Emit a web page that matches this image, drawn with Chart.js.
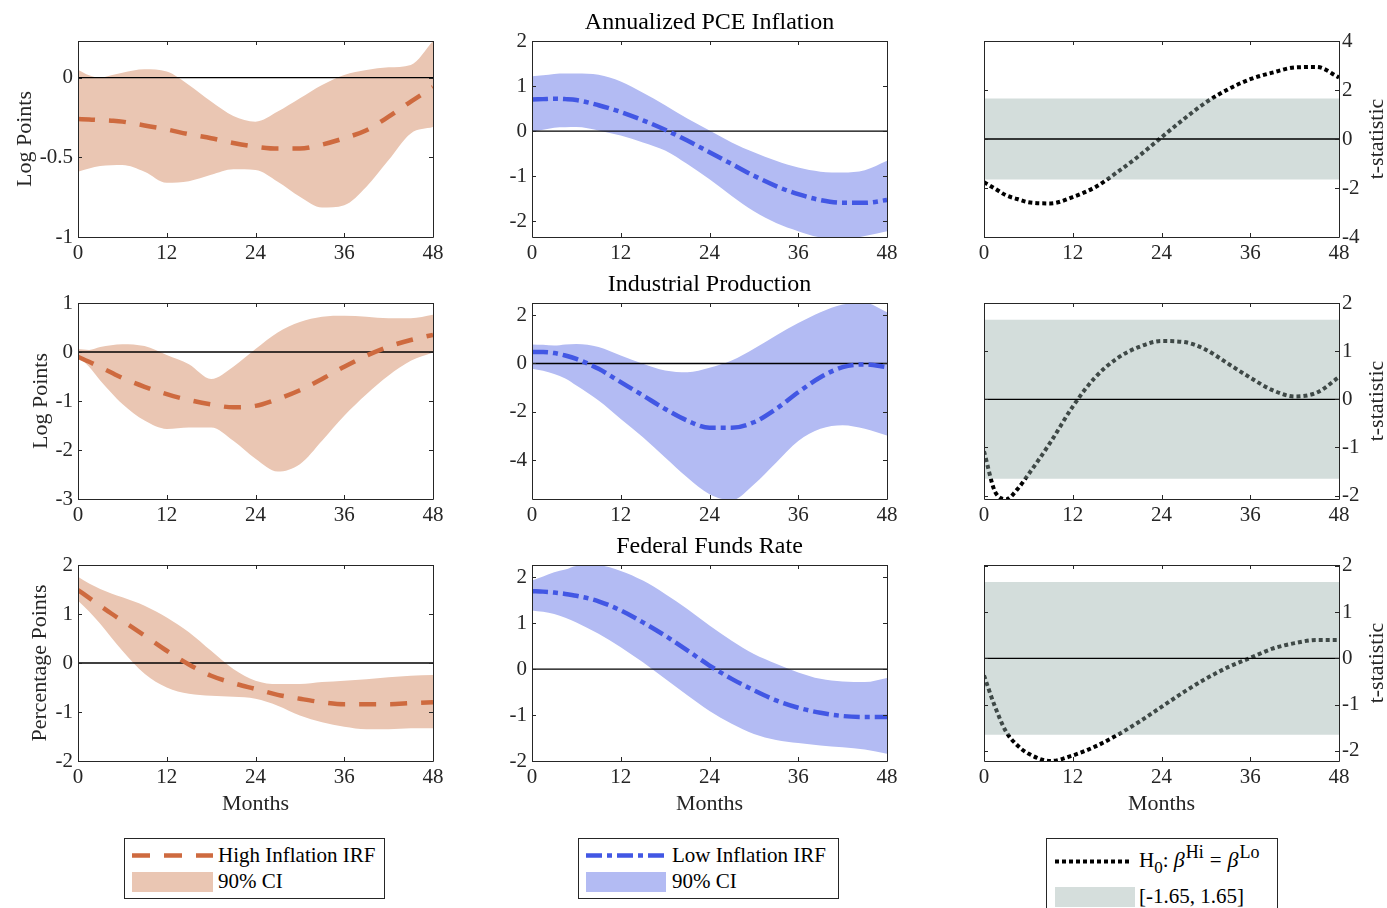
<!DOCTYPE html>
<html>
<head>
<meta charset="utf-8">
<script src="https://cdn.jsdelivr.net/npm/chart.js@4.4.0/dist/chart.umd.min.js"></script>
<style>
  body { margin: 0; background: #fff; }
  #page { position: relative; width: 1387px; height: 908px; overflow: hidden; background: #fff;
          font-family: "Liberation Serif", "Times New Roman", serif; color: #000; }
  #page canvas { position: absolute; }
  .box { position: absolute; border: 1px solid #262626; box-sizing: border-box; background: #fff; }
  .lab { position: absolute; font-size: 21px; line-height: 24px; white-space: nowrap; }
  .lab sup { font-size: 18px; vertical-align: 9px; line-height: 0; margin-left: 1px; }
  .lab sub { font-size: 17px; vertical-align: -6px; line-height: 0; }
  .lab i { font-size: 22px; }
  .lab .eq { margin: 0 6px; }
  svg { position: absolute; left: 0; top: 0; }
</style>
</head>
<body>
<div id="page">
  <div class="box" style="left:124px;top:838px;width:261px;height:61px;"></div>
  <div class="box" style="left:578px;top:838px;width:261px;height:61px;"></div>
  <div class="box" style="left:1046px;top:838px;width:232px;height:90px;"></div>
  <svg width="1387" height="908">
    <line x1="132" y1="855.5" x2="213" y2="855.5" stroke="#CE6A3F" stroke-width="4.5" stroke-dasharray="18,14"/>
    <rect x="132" y="872" width="81" height="20" fill="#EAC6B3"/>
    <line x1="586" y1="855.5" x2="666" y2="855.5" stroke="#4257E4" stroke-width="4.5" stroke-dasharray="16,5,5,5"/>
    <rect x="586" y="872" width="80" height="20" fill="#B3BBF3"/>
    <line x1="1055" y1="861.5" x2="1129" y2="861.5" stroke="#000" stroke-width="4" stroke-dasharray="4,3"/>
    <rect x="1055" y="887" width="80" height="20" fill="#D5DEDC"/>
  </svg>
  <div class="lab" style="left:218px;top:843px;">High Inflation IRF</div>
  <div class="lab" style="left:218px;top:869px;">90% CI</div>
  <div class="lab" style="left:672px;top:843px;">Low Inflation IRF</div>
  <div class="lab" style="left:672px;top:869px;">90% CI</div>
  <div class="lab" style="left:1139px;top:848px;">H<sub>0</sub>:&nbsp;<i>β</i><sup>Hi</sup><span class="eq">=</span><i>β</i><sup>Lo</sup></div>
  <div class="lab" style="left:1139px;top:884px;">[-1.65, 1.65]</div>
</div>
<script>
// horizon in months (irregular at the start so the sharp early moves are kept)
var months = [0, 1.5, 3, 4.5, 6, 9, 12, 15, 18, 21, 24, 27, 30, 33, 36, 39, 42, 45, 48];
var xTicks = [0, 12, 24, 36, 48];
var critBand = [-1.65, 1.65];

// Annualized PCE inflation
var pceHigh      = [-0.26, -0.262, -0.266, -0.27, -0.276, -0.30, -0.325, -0.355, -0.38, -0.41, -0.433, -0.445, -0.445, -0.42, -0.38, -0.33, -0.245, -0.15, -0.06];
var pceHighUpper = [0.05, 0.015, 0.0, 0.015, 0.03, 0.052, 0.038, -0.046, -0.15, -0.24, -0.276, -0.213, -0.13, -0.046, 0.017, 0.048, 0.065, 0.08, 0.23];
var pceHighLower = [-0.59, -0.57, -0.554, -0.55, -0.548, -0.59, -0.66, -0.65, -0.61, -0.575, -0.58, -0.653, -0.747, -0.815, -0.80, -0.684, -0.517, -0.35, -0.31];
var pceLow       = [0.70, 0.71, 0.72, 0.71, 0.69, 0.575, 0.425, 0.24, 0.03, -0.21, -0.47, -0.73, -0.99, -1.22, -1.40, -1.53, -1.59, -1.59, -1.53];
var pceLowUpper  = [1.22, 1.24, 1.27, 1.28, 1.28, 1.25, 1.10, 0.85, 0.575, 0.28, 0.015, -0.25, -0.47, -0.66, -0.81, -0.90, -0.92, -0.87, -0.66];
var pceLowLower  = [-0.02, 0.03, 0.075, 0.085, 0.09, 0.015, -0.10, -0.25, -0.43, -0.73, -1.07, -1.44, -1.78, -2.04, -2.22, -2.36, -2.40, -2.33, -2.22];
var pceTstat     = [-1.76, -2.03, -2.3, -2.45, -2.58, -2.63, -2.37, -1.97, -1.36, -0.68, 0.07, 0.81, 1.49, 2.03, 2.44, 2.71, 2.92, 2.94, 2.51];

// Industrial production
var ipHigh      = [-0.10, -0.20, -0.31, -0.42, -0.53, -0.71, -0.86, -0.98, -1.07, -1.13, -1.10, -0.96, -0.78, -0.55, -0.30, -0.075, 0.11, 0.245, 0.35];
var ipHighUpper = [0.06, 0.04, 0.10, 0.14, 0.16, 0.12, -0.06, -0.25, -0.55, -0.30, 0.06, 0.40, 0.61, 0.72, 0.74, 0.72, 0.69, 0.69, 0.76];
var ipHighLower = [-0.08, -0.30, -0.58, -0.83, -1.06, -1.40, -1.57, -1.54, -1.54, -1.81, -2.18, -2.44, -2.29, -1.81, -1.30, -0.86, -0.48, -0.18, -0.01];
var ipLow       = [0.47, 0.47, 0.43, 0.33, 0.19, -0.22, -0.77, -1.32, -1.88, -2.36, -2.66, -2.66, -2.43, -1.88, -1.19, -0.57, -0.15, -0.04, -0.15];
var ipLowUpper  = [0.79, 0.77, 0.74, 0.79, 0.81, 0.68, 0.33, -0.01, -0.29, -0.36, -0.18, 0.12, 0.61, 1.16, 1.67, 2.12, 2.44, 2.52, 2.12];
var ipLowLower  = [-0.22, -0.30, -0.43, -0.62, -0.91, -1.53, -2.29, -3.05, -3.88, -4.71, -5.40, -5.65, -5.00, -4.10, -3.20, -2.70, -2.55, -2.70, -2.98];
var ipTstat     = [-1.08, -1.92, -2.08, -1.87, -1.56, -0.89, -0.15, 0.45, 0.85, 1.09, 1.21, 1.19, 1.03, 0.74, 0.45, 0.19, 0.06, 0.14, 0.46];

// Federal funds rate
var ffrHigh      = [1.49, 1.33, 1.17, 1.01, 0.86, 0.56, 0.25, -0.03, -0.26, -0.41, -0.53, -0.65, -0.73, -0.80, -0.84, -0.84, -0.84, -0.82, -0.80];
var ffrHighUpper = [1.76, 1.62, 1.51, 1.42, 1.34, 1.17, 0.93, 0.63, 0.25, -0.12, -0.36, -0.43, -0.43, -0.39, -0.36, -0.33, -0.29, -0.26, -0.245];
var ffrHighLower = [1.27, 1.05, 0.80, 0.52, 0.25, -0.22, -0.50, -0.63, -0.67, -0.69, -0.73, -0.87, -1.07, -1.21, -1.30, -1.35, -1.35, -1.33, -1.33];
var ffrLow       = [1.70, 1.69, 1.67, 1.64, 1.60, 1.48, 1.28, 1.02, 0.73, 0.41, 0.08, -0.21, -0.46, -0.68, -0.84, -0.95, -1.02, -1.04, -1.04];
var ffrLowUpper  = [1.93, 2.02, 2.11, 2.17, 2.25, 2.26, 2.14, 1.93, 1.64, 1.31, 0.95, 0.62, 0.33, 0.12, -0.07, -0.21, -0.27, -0.28, -0.19];
var ffrLowLower  = [1.28, 1.25, 1.20, 1.12, 1.02, 0.77, 0.48, 0.15, -0.21, -0.57, -0.91, -1.19, -1.41, -1.54, -1.61, -1.66, -1.70, -1.75, -1.84];
var ffrTstat     = [-0.37, -1.05, -1.59, -1.88, -2.06, -2.22, -2.10, -1.91, -1.66, -1.37, -1.05, -0.73, -0.44, -0.19, 0.01, 0.21, 0.33, 0.40, 0.40];

// y tick labels of each panel
var pceHighTicks = [-1, -0.5, 0];
var pceLowTicks  = [-2, -1, 0, 1, 2];
var pceTTicks    = [-4, -2, 0, 2, 4];
var ipHighTicks  = [-3, -2, -1, 0, 1];
var ipLowTicks   = [-4, -2, 0, 2];
var ipTTicks     = [-2, -1, 0, 1, 2];
var ffrHighTicks = [-2, -1, 0, 1, 2];
var ffrLowTicks  = [-2, -1, 0, 1, 2];
var ffrTTicks    = [-2, -1, 0, 1, 2];

var FONT = 'Liberation Serif';
var AXIS = '#262626';
var plotLeft = [78, 532, 984];
var plotTop = [41, 303, 565];
var plotW = 355, plotH = 196;

var styles = {
    hi: { color: '#CE6A3F', band: '#EAC6B3', dash: [17, 14], width: 4.5 },
    lo: { color: '#4257E4', band: '#B3BBF3', dash: [16, 5, 5, 5], width: 4.5 },
    t:  { color: '#000000', band: 'rgba(150,175,170,0.42)', dash: [4, 3], width: 4 }
};

var panels = [
    { row: 0, col: 0, kind: 'hi', mean: pceHigh, upper: pceHighUpper, lower: pceHighLower, range: [-1, 0.23], ticks: pceHighTicks, ylabel: 'Log Points', ypad: 11.7 },
    { row: 0, col: 1, kind: 'lo', mean: pceLow, upper: pceLowUpper, lower: pceLowLower, range: [-2.35, 2], ticks: pceLowTicks, title: 'Annualized PCE Inflation' },
    { row: 0, col: 2, kind: 't', mean: pceTstat, range: [-4, 4], ticks: pceTTicks },
    { row: 1, col: 0, kind: 'hi', mean: ipHigh, upper: ipHighUpper, lower: ipHighLower, range: [-3, 1], ticks: ipHighTicks, ylabel: 'Log Points', ypad: 28 },
    { row: 1, col: 1, kind: 'lo', mean: ipLow, upper: ipLowUpper, lower: ipLowLower, range: [-5.6, 2.5], ticks: ipLowTicks, title: 'Industrial Production' },
    { row: 1, col: 2, kind: 't', mean: ipTstat, range: [-2.07, 2], ticks: ipTTicks },
    { row: 2, col: 0, kind: 'hi', mean: ffrHigh, upper: ffrHighUpper, lower: ffrHighLower, range: [-2, 2], ticks: ffrHighTicks, ylabel: 'Percentage Points', ypad: 27 },
    { row: 2, col: 1, kind: 'lo', mean: ffrLow, upper: ffrLowUpper, lower: ffrLowLower, range: [-2, 2.27], ticks: ffrLowTicks, title: 'Federal Funds Rate' },
    { row: 2, col: 2, kind: 't', mean: ffrTstat, range: [-2.22, 2.02], ticks: ffrTTicks }
];

function series(ys) {
    return months.map(function (m, i) { return { x: m, y: ys[i] }; });
}
function flat(v) {
    return [{ x: 0, y: v }, { x: 48, y: v }];
}

// MATLAB style box with inward ticks, plus the right hand label
var frameTicks = {
    id: 'frameTicks',
    afterDatasetsDraw: function (chart, args, opts) {
        var a = chart.chartArea, ctx = chart.ctx;
        var sx = chart.scales.x, sy = chart.scales.y;
        ctx.save();
        ctx.strokeStyle = AXIS;
        ctx.lineWidth = 1;
        ctx.beginPath();
        ctx.rect(a.left + 0.5, a.top + 0.5, a.right - a.left, a.bottom - a.top);
        sx.ticks.forEach(function (t) {
            var px = Math.round(sx.getPixelForValue(t.value)) + 0.5;
            ctx.moveTo(px, a.bottom); ctx.lineTo(px, a.bottom - 4);
            ctx.moveTo(px, a.top); ctx.lineTo(px, a.top + 4);
        });
        sy.ticks.forEach(function (t) {
            var py = Math.round(sy.getPixelForValue(t.value)) + 0.5;
            ctx.moveTo(a.left, py); ctx.lineTo(a.left + 4, py);
            ctx.moveTo(a.right, py); ctx.lineTo(a.right - 4, py);
        });
        ctx.stroke();
        if (opts.rightLabel) {
            ctx.fillStyle = AXIS;
            ctx.font = '22px "' + FONT + '"';
            ctx.textAlign = 'center';
            ctx.textBaseline = 'middle';
            ctx.translate(a.right + 38.6, (a.top + a.bottom) / 2);
            ctx.rotate(-Math.PI / 2);
            ctx.fillText(opts.rightLabel, 0, 0);
        }
        ctx.restore();
    }
};

function buildPanel(p) {
    var st = styles[p.kind];
    var isT = p.kind === 't';
    var padL = isT ? 20 : 78;
    var padR = isT ? 60 : 78;
    var xh = p.row === 2 ? 62 : 30;
    var cw = padL + plotW + padR;
    var ch = 40 + plotH + xh;

    var cv = document.createElement('canvas');
    cv.width = cw;
    cv.height = ch;
    cv.style.left = (plotLeft[p.col] - padL) + 'px';
    cv.style.top = (plotTop[p.row] - 40) + 'px';
    cv.style.width = cw + 'px';
    cv.style.height = ch + 'px';
    document.getElementById('page').appendChild(cv);

    var zero = { data: flat(0), borderColor: '#000', borderWidth: 1.3, pointRadius: 0, fill: false, clip: 0 };
    var meanLine = {
        data: series(p.mean), borderColor: st.color, borderWidth: st.width, borderDash: st.dash,
        borderCapStyle: 'butt', cubicInterpolationMode: 'monotone', pointRadius: 0, fill: false, clip: 0
    };
    var datasets;
    if (isT) {
        datasets = [
            zero,
            { data: flat(critBand[1]), borderColor: 'rgba(0,0,0,0)', borderWidth: 1, pointRadius: 0, backgroundColor: st.band, fill: '+1', clip: 0 },
            { data: flat(critBand[0]), borderColor: 'rgba(0,0,0,0)', borderWidth: 1, pointRadius: 0, fill: false, clip: 0 },
            meanLine
        ];
    } else {
        datasets = [
            meanLine,
            zero,
            { data: series(p.upper), borderColor: 'rgba(0,0,0,0)', borderWidth: 1, pointRadius: 0, backgroundColor: st.band,
              fill: '+1', cubicInterpolationMode: 'monotone', clip: 0 },
            { data: series(p.lower), borderColor: 'rgba(0,0,0,0)', borderWidth: 1, pointRadius: 0, fill: false,
              cubicInterpolationMode: 'monotone', clip: 0 }
        ];
    }

    var tickFont = { family: FONT, size: 21 };
    return new Chart(cv.getContext('2d'), {
        type: 'line',
        data: { datasets: datasets },
        plugins: [frameTicks],
        options: {
            responsive: false,
            animation: false,
            events: [],
            layout: { padding: { left: isT ? padL : 0, right: isT ? 0 : padR, top: 0, bottom: 0 } },
            plugins: {
                legend: { display: false },
                tooltip: { enabled: false },
                title: {
                    display: true,
                    fullSize: false,   // centre over the plot area, not the canvas
                    text: p.title || '',
                    color: '#000',
                    font: { family: FONT, size: 24, weight: 'normal', lineHeight: 1.2 },
                    padding: { top: 7.6, bottom: 3.6 }
                },
                frameTicks: { rightLabel: isT ? 't-statistic' : '' }
            },
            scales: {
                x: {
                    type: 'linear',
                    min: 0,
                    max: 48,
                    bounds: 'data',
                    afterBuildTicks: function (s) { s.ticks = xTicks.map(function (v) { return { value: v }; }); },
                    afterFit: function (s) { s.height = xh; },
                    grid: { display: false, drawTicks: false },
                    border: { display: false },
                    ticks: { font: tickFont, color: AXIS, padding: 3.5, maxRotation: 0, autoSkip: false,
                             callback: function (v) { return String(v); } },
                    title: {
                        display: p.row === 2,
                        text: 'Months',
                        color: AXIS,
                        font: { family: FONT, size: 22, lineHeight: 1.2 },
                        padding: { top: 0, bottom: 5.2 }
                    }
                },
                y: {
                    type: 'linear',
                    position: isT ? 'right' : 'left',
                    min: p.range[0],
                    max: p.range[1],
                    bounds: 'data',
                    afterBuildTicks: function (s) { s.ticks = p.ticks.map(function (v) { return { value: v }; }); },
                    afterFit: function (s) { s.width = isT ? padR : padL; },
                    grid: { display: false, drawTicks: false },
                    border: { display: false },
                    ticks: { font: tickFont, color: AXIS, padding: isT ? 3 : 5, autoSkip: false,
                             callback: function (v) { return String(v); } },
                    title: {
                        display: !!p.ylabel,
                        text: p.ylabel || '',
                        color: AXIS,
                        font: { family: FONT, size: 22, lineHeight: 1.2 },
                        padding: { top: p.ypad || 0, bottom: 0 }
                    }
                }
            }
        }
    });
}

panels.forEach(buildPanel);
</script>
</body>
</html>
